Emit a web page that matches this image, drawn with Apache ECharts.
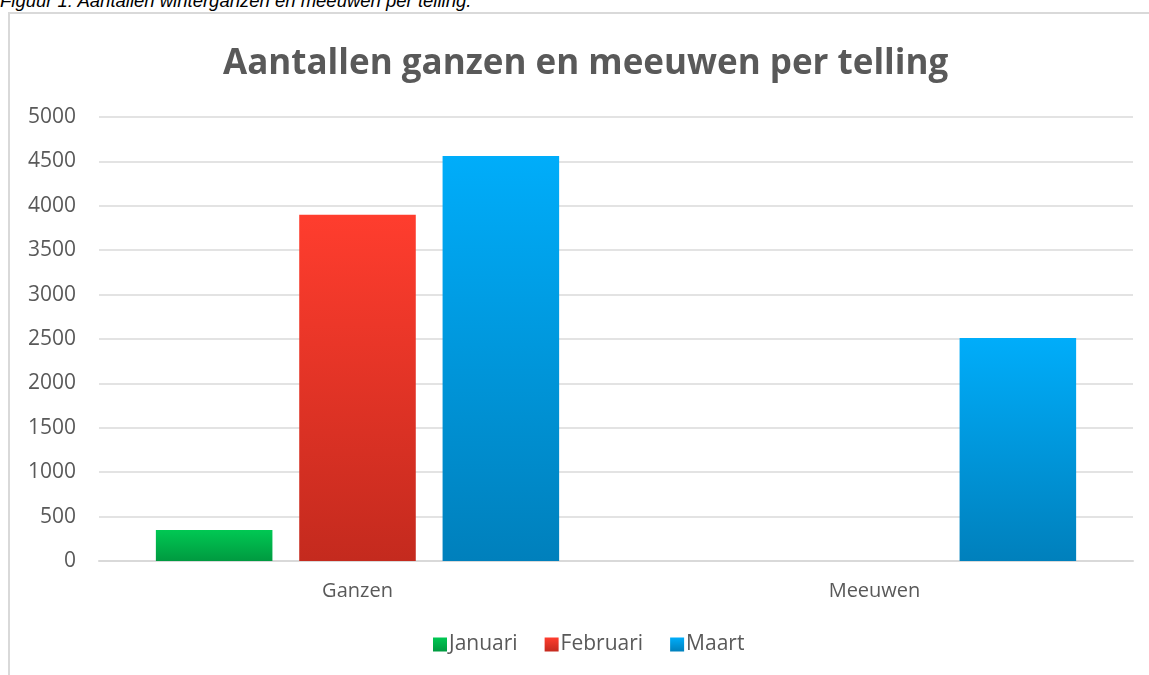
<!DOCTYPE html>
<html>
<head>
<meta charset="utf-8">
<script src="https://cdn.jsdelivr.net/npm/echarts@6/dist/echarts.min.js"></script>
<style>
  html, body { margin: 0; padding: 0; background: #fff; }
  .caption {
    position: absolute; left: 0; top: -10px;
    font: italic 18.5px "Liberation Sans", Arial, sans-serif; color: #000;
    white-space: nowrap;
  }
  .chart-container {
    position: absolute; left: 8px; top: 12px;
    width: 1141px; height: 663px;
    border-left: 2px solid #d9d9d9; border-top: 2px solid #d9d9d9;
    box-sizing: border-box;
  }
</style>
</head>
<body>
<div class="caption">Figuur 1: Aantallen winterganzen en meeuwen per telling.</div>
<div class="chart-container" id="chart"></div>
<script>
const categories = ["Ganzen", "Meeuwen"]
const januari = [350, 0]
const februari = [3900, 0]
const maart = [4560, 2510]

const grad = (top, bottom) => new echarts.graphic.LinearGradient(0, 0, 0, 1, [
  { offset: 0, color: top },
  { offset: 1, color: bottom },
])

const barStyle = (top, bottom) => ({
  color: grad(top, bottom),
  shadowColor: "rgba(0,0,0,0.25)",
  shadowBlur: 6,
  shadowOffsetY: 2,
})

const myChart = echarts.init(document.getElementById("chart"))
const option = {
  title: {
    text: "Aantallen ganzen en meeuwen per telling",
    left: 208,
    top: 28,
    padding: 5,
    textStyle: {
      fontFamily: "Open Sans",
      fontSize: 35,
      fontWeight: "bold",
      color: "#595959",
    },
  },
  legend: {
    bottom: 15,
    left: 418,
    icon: "rect",
    itemWidth: 14,
    itemHeight: 14,
    itemGap: 27,
    textStyle: { fontFamily: "Open Sans", fontSize: 21, color: "#595959", padding: [0, 0, 0, -3] },
    data: ["Januari", "Februari", "Maart"],
  },
  grid: {
    left: 89,
    right: 16,
    top: 103,
    bottom: 114,
  },
  xAxis: {
    type: "category",
    data: categories,
    axisTick: { show: false },
    axisLine: { lineStyle: { color: "#d9d9d9", width: 2 } },
    axisLabel: { fontFamily: "Open Sans", fontSize: 20, color: "#595959", margin: 20 },
  },
  yAxis: {
    type: "value",
    min: 0,
    max: 5000,
    interval: 500,
    axisLine: { show: false },
    axisTick: { show: false },
    splitLine: { lineStyle: { color: "#e3e3e3", width: 2 } },
    axisLabel: {
      fontFamily: "Open Sans", fontSize: 21, color: "#595959", margin: 23,
      formatter: (v) => String(v),
    },
  },
  series: [
    {
      name: "Januari",
      type: "bar",
      data: januari,
      barGap: "23%",
      barCategoryGap: "22%",
      itemStyle: barStyle("#00c853", "#009a40"),
    },
    {
      name: "Februari",
      type: "bar",
      data: februari,
      itemStyle: barStyle("#ff3d2e", "#c42a1e"),
    },
    {
      name: "Maart",
      type: "bar",
      data: maart,
      itemStyle: barStyle("#00adfa", "#0080bc"),
    },
  ],
}
myChart.setOption(option)
</script>
</body>
</html>
